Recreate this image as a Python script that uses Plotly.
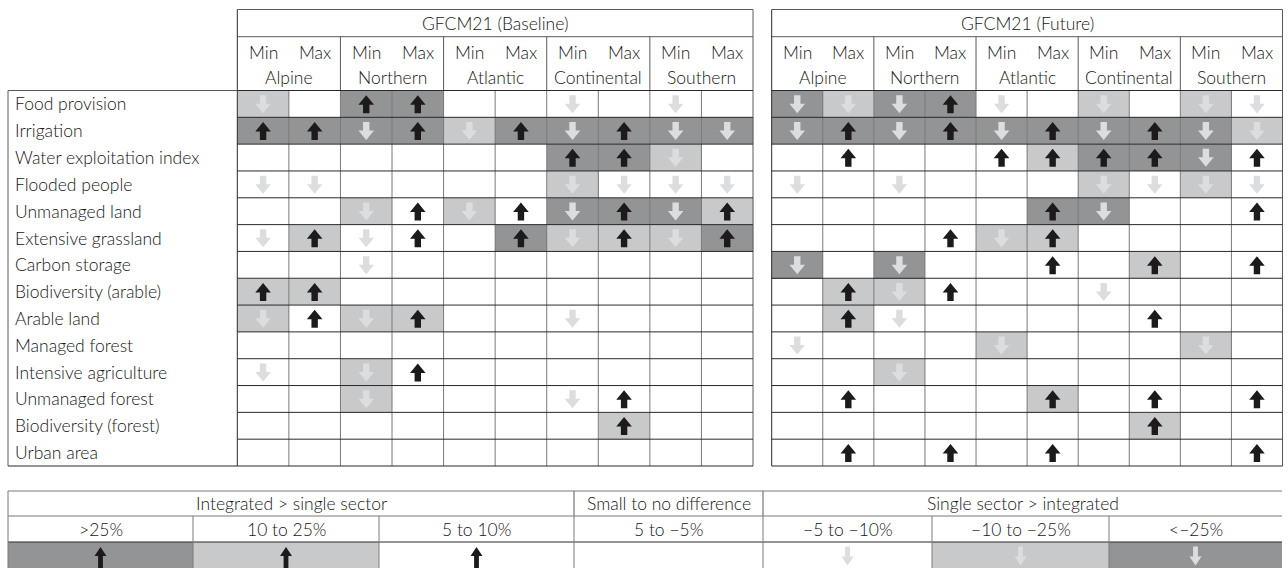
import plotly.graph_objects as go

# ---------------- data ----------------
row_labels = ["Food provision", "Irrigation", "Water exploitation index", "Flooded people",
              "Unmanaged land", "Extensive grassland", "Carbon storage", "Biodiversity (arable)",
              "Arable land", "Managed forest", "Intensive agriculture", "Unmanaged forest",
              "Biodiversity (forest)", "Urban area"]
regions = ["Alpine", "Northern", "Atlantic", "Continental", "Southern"]
scenarios = ["Min", "Max"]
panel_titles = ["GFCM21 (Baseline)", "GFCM21 (Future)"]

# level: +3 >25%, +2 10-25%, +1 5-10%, 0 small, -1 -5..-10%, -2 -10..-25%, -3 <-25%
baseline = [
    [-2, 0, 3, 3, 0, 0, -1, 0, -1, 0],
    [3, 3, -3, 3, -2, 3, -3, 3, -3, -3],
    [0, 0, 0, 0, 0, 0, 3, 3, -2, 0],
    [-1, -1, 0, 0, 0, 0, -2, -1, -1, -1],
    [0, 0, -2, 1, -2, 1, -3, 3, -3, 2],
    [-1, 2, -1, 1, 0, 3, -2, 2, -2, 3],
    [0, 0, -1, 0, 0, 0, 0, 0, 0, 0],
    [2, 2, 0, 0, 0, 0, 0, 0, 0, 0],
    [-2, 1, -2, 2, 0, 0, -1, 0, 0, 0],
    [0, 0, 0, 0, 0, 0, 0, 0, 0, 0],
    [-1, 0, -2, 1, 0, 0, 0, 0, 0, 0],
    [0, 0, -2, 0, 0, 0, -1, 1, 0, 0],
    [0, 0, 0, 0, 0, 0, 0, 2, 0, 0],
    [0, 0, 0, 0, 0, 0, 0, 0, 0, 0],
]
future = [
    [-3, -2, -3, 3, -1, 0, -2, 0, -2, -1],
    [-3, 3, -3, 3, -3, 3, -3, 3, -3, -2],
    [0, 1, 0, 0, 1, 2, 3, 3, -3, 1],
    [-1, 0, -1, 0, 0, 0, -2, -1, -2, -1],
    [0, 0, 0, 0, 0, 3, -3, 0, 0, 1],
    [0, 0, 0, 1, -2, 2, 0, 0, 0, 0],
    [-3, 0, -3, 0, 0, 1, 0, 2, 0, 1],
    [0, 2, -2, 1, 0, 0, -1, 0, 0, 0],
    [0, 2, -1, 0, 0, 0, 0, 1, 0, 0],
    [-1, 0, 0, 0, -2, 0, 0, 0, -2, 0],
    [0, 0, -2, 0, 0, 0, 0, 0, 0, 0],
    [0, 1, 0, 0, 0, 2, 0, 1, 0, 1],
    [0, 0, 0, 0, 0, 0, 0, 2, 0, 0],
    [0, 1, 0, 1, 0, 1, 0, 0, 0, 1],
]
legend_groups = ["Integrated > single sector", "Small to no difference", "Single sector > integrated"]
legend_group_span = [3, 1, 3]
legend_labels = [">25%", "10 to 25%", "5 to 10%", "5 to \u22125%", "\u22125 to \u221210%",
                 "\u221210 to \u221225%", "<\u221225%"]
legend_levels = [3, 2, 1, 0, -1, -2, -3]

# ---------------- layout / style ----------------
W, H = 1288, 568
FONT = "Lato"
FS = 17.5
FW = 300
TXT = "#161616"
DARK = "#939496"
LIGHT = "#c8c9cb"
UPC = "#1c1a1b"
DOWNC = "#dcdddf"
HLINE = "#2a2a2a"
VLINE = "#7a7a7a"
BORDER = "#5a5a5a"

LABEL_X0 = 8
TABLES_X = [(237.3, 753.0), (771.7, 1282.5)]
Y_TOP, Y_TITLE, Y_BODY, Y_BOTTOM = 9.5, 36.7, 90.5, 466.0
LEG_X = [8, 193, 379, 574, 763, 932, 1109, 1282]
LEG_Y = [491, 516, 542, 575]

nrows = len(row_labels)
ncols = len(regions) * len(scenarios)
row_edges = [Y_BODY + i * (Y_BOTTOM - Y_BODY) / nrows for i in range(nrows + 1)]
row_centers = [(row_edges[i] + row_edges[i + 1]) / 2 for i in range(nrows)]


def bg_code(v):
    return 2 if abs(v) == 3 else (1 if abs(v) == 2 else 0)


def arrow(cx, cy, up, hw, hh, sw, total):
    top, bot = cy - total / 2, cy + total / 2
    if up:
        pts = [(cx, top), (cx + hw, top + hh), (cx + sw, top + hh), (cx + sw, bot),
               (cx - sw, bot), (cx - sw, top + hh), (cx - hw, top + hh), (cx, top)]
    else:
        pts = [(cx, bot), (cx + hw, bot - hh), (cx + sw, bot - hh), (cx + sw, top),
               (cx - sw, top), (cx - sw, bot - hh), (cx - hw, bot - hh), (cx, bot)]
    return [p[0] for p in pts] + [None], [p[1] for p in pts] + [None]


fig = go.Figure()
shapes = []
annotations = []
ups_x, ups_y, downs_x, downs_y = [], [], [], []


def line(x0, y0, x1, y1, color, width=1):
    shapes.append(dict(type="line", xref="x", yref="y", x0=x0, y0=y0, x1=x1, y1=y1,
                       line=dict(color=color, width=width), layer="above"))


def text(x, y, s, size=FS, xanchor="center"):
    annotations.append(dict(x=x, y=y, xref="x", yref="y", text=s, showarrow=False,
                            xanchor=xanchor, yanchor="middle",
                            font=dict(family=FONT, size=size, color=TXT, weight=FW)))


colorscale = [[0, "#ffffff"], [0.5, LIGHT], [1, DARK]]

for (x0, x1), title, data in zip(TABLES_X, panel_titles, [baseline, future]):
    cw = (x1 - x0) / ncols
    col_edges = [x0 + j * cw for j in range(ncols + 1)]
    col_centers = [(col_edges[j] + col_edges[j + 1]) / 2 for j in range(ncols)]
    fig.add_trace(go.Heatmap(
        z=[[bg_code(v) for v in row] for row in data],
        x=col_edges, y=row_edges, zmin=0, zmax=2, colorscale=colorscale,
        showscale=False, hoverinfo="skip"))
    for i, row in enumerate(data):
        for j, v in enumerate(row):
            if v > 0:
                ax, ay = arrow(col_centers[j], row_centers[i] + 0.3, True, 7.8, 9.5, 3.2, 18)
                ups_x += ax; ups_y += ay
            elif v < 0:
                ax, ay = arrow(col_centers[j], row_centers[i] + 0.3, False, 7.8, 9.5, 3.2, 18)
                downs_x += ax; downs_y += ay
    # header
    text((x0 + x1) / 2, (Y_TOP + Y_TITLE) / 2 + 0.5, title)
    for j in range(ncols):
        text(col_centers[j], 52.5, scenarios[j % 2])
    for k, reg in enumerate(regions):
        text((col_edges[2 * k] + col_edges[2 * k + 2]) / 2, 77, reg)
    # lines
    line(x0, Y_TOP, x1, Y_TOP, BORDER)
    line(x0, Y_TITLE, x1, Y_TITLE, BORDER)
    line(x0, Y_TOP, x0, Y_BOTTOM, HLINE)
    line(x1, Y_TOP, x1, Y_BOTTOM, BORDER)
    for k in range(1, len(regions)):
        line(col_edges[2 * k], Y_TITLE, col_edges[2 * k], Y_BODY, BORDER)
    for j in range(1, ncols):
        line(col_edges[j], Y_BODY, col_edges[j], Y_BOTTOM, VLINE)
    for i in range(nrows + 1):
        line(x0, row_edges[i], x1, row_edges[i], HLINE)

# row label box
line(LABEL_X0, Y_BODY, TABLES_X[0][0], Y_BODY, BORDER)
line(LABEL_X0, Y_BOTTOM, TABLES_X[0][0], Y_BOTTOM, HLINE)
line(LABEL_X0, Y_BODY, LABEL_X0, Y_BOTTOM, BORDER)
for i, lab in enumerate(row_labels):
    text(LABEL_X0 + 5, row_centers[i], lab, xanchor="left")

# ---------------- legend ----------------
fig.add_trace(go.Heatmap(
    z=[[bg_code(v) for v in legend_levels]], x=LEG_X, y=[LEG_Y[2], LEG_Y[3]],
    zmin=0, zmax=2, colorscale=colorscale, showscale=False, hoverinfo="skip"))
leg_cy = 556.5
for j, v in enumerate(legend_levels):
    cx = (LEG_X[j] + LEG_X[j + 1]) / 2
    text(cx, (LEG_Y[1] + LEG_Y[2]) / 2 + 0.5, legend_labels[j])
    if v > 0:
        ax, ay = arrow(cx, leg_cy + 1.5, True, 6.0, 9, 2.4, 22)
        ups_x += ax; ups_y += ay
    elif v < 0:
        ax, ay = arrow(cx, leg_cy - 0.5, False, 6.0, 9, 2.4, 19)
        downs_x += ax; downs_y += ay
k = 0
for g, span in zip(legend_groups, legend_group_span):
    text((LEG_X[k] + LEG_X[k + span]) / 2, (LEG_Y[0] + LEG_Y[1]) / 2, g)
    if k > 0:
        line(LEG_X[k], LEG_Y[0], LEG_X[k], LEG_Y[1], BORDER)
    k += span
line(LEG_X[0], LEG_Y[0], LEG_X[-1], LEG_Y[0], VLINE)
line(LEG_X[0], LEG_Y[1], LEG_X[-1], LEG_Y[1], VLINE)
line(LEG_X[0], LEG_Y[2], LEG_X[-1], LEG_Y[2], HLINE)
line(LEG_X[0], LEG_Y[0], LEG_X[0], LEG_Y[3], VLINE)
for j in range(1, len(LEG_X) - 1):
    line(LEG_X[j], LEG_Y[1], LEG_X[j], LEG_Y[3], VLINE)

fig.add_trace(go.Scatter(x=ups_x, y=ups_y, mode="lines", fill="toself", fillcolor=UPC,
                         line=dict(width=0, color=UPC), hoverinfo="skip", showlegend=False))
fig.add_trace(go.Scatter(x=downs_x, y=downs_y, mode="lines", fill="toself", fillcolor=DOWNC,
                         line=dict(width=0, color=DOWNC), hoverinfo="skip", showlegend=False))

fig.update_layout(
    width=W, height=H, autosize=False,
    margin=dict(l=0, r=0, t=0, b=0, pad=0),
    paper_bgcolor="white", plot_bgcolor="white",
    xaxis=dict(range=[0, W], visible=False, fixedrange=True),
    yaxis=dict(range=[H, 0], visible=False, fixedrange=True),
    shapes=shapes, annotations=annotations, showlegend=False,
)

fig.write_html("out.html", config={"displayModeBar": False},
               post_script="document.body.style.margin='0';")
